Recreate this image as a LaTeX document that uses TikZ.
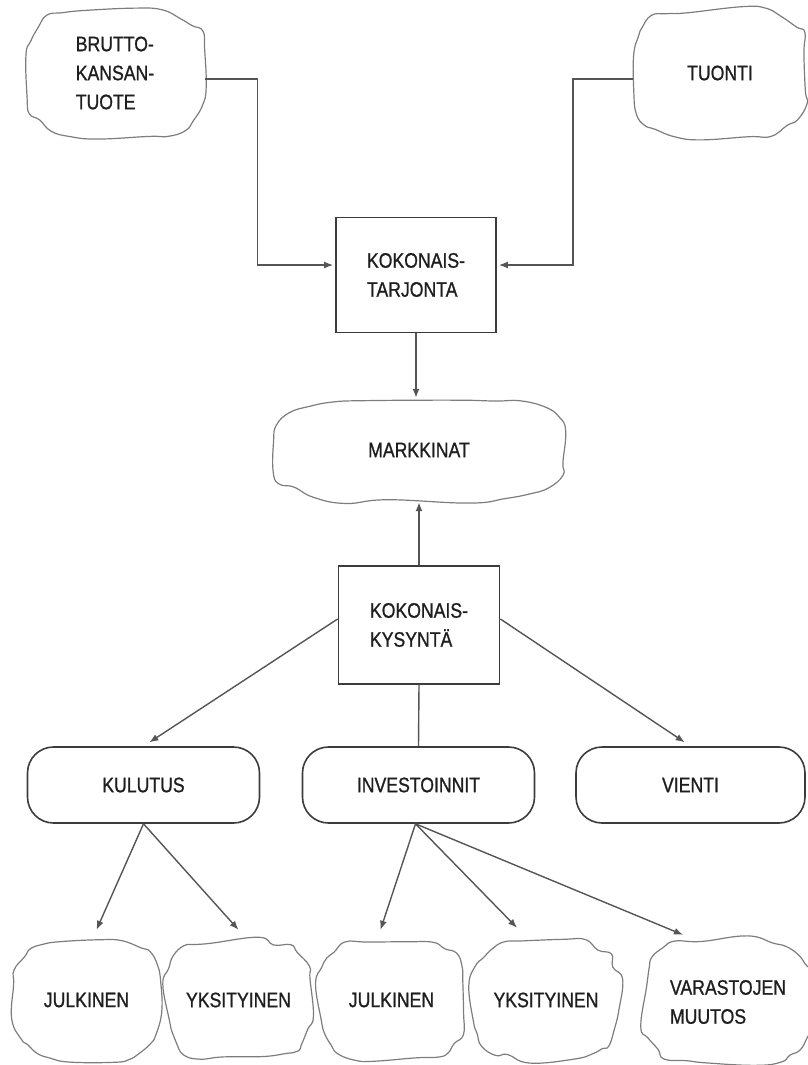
\documentclass[tikz,border=0pt]{standalone}
\usepackage{fontspec}
\setmainfont{Liberation Sans}[FakeStretch=0.84, FakeBold=0.9]
\usepackage{tikz}
\usetikzlibrary{
  positioning,
  arrows.meta
}
\usepackage{xcolor}

\definecolor{viiva}{RGB}{85,85,85}
\definecolor{reuna}{RGB}{60,60,60}
\definecolor{pilvireuna}{RGB}{125,125,125}
\definecolor{teksti}{RGB}{30,30,30}

% wobbly outline round a named node: name, half width, half height, seed
\newcommand{\pilvi}[4]{%
  \pgfmathsetseed{#4}%
  \draw[pilviviiva, shift={(#1.center)}] plot[smooth cycle, tension=0.75, variable=\t, domain=5:350, samples=24]
    ({(#2)*cos(\t)/abs(cos(\t))^0.4 + 3.5*rand}, {(#3)*sin(\t)/abs(sin(\t))^0.4 + 3.5*rand});%
}

\begin{document}
\begin{tikzpicture}[x=1pt,y=-1pt,>={Latex[length=9pt,width=7pt]},
    every node/.style={font=\fontsize{21}{29}\selectfont, text=teksti},
    laatikko/.style={draw=reuna, line width=1.8pt, inner sep=0pt, align=left},
    kapseli/.style={draw=reuna, line width=1.6pt, rounded corners=26pt, minimum width=232pt, minimum height=76pt, inner sep=0pt},
    pilvialue/.style={inner sep=0pt, align=left},
    pilviviiva/.style={draw=pilvireuna, line width=1.2pt},
    nuoli/.style={draw=viiva, line width=1.4pt, ->},
    yhdys/.style={draw=viiva, line width=1.4pt}]
    \useasboundingbox (0,0) rectangle (807,1065);

    % tarjonta
    \node[pilvialue, minimum width=180pt, minimum height=130pt] (bkt) at (115,73) {BRUTTO-\\KANSAN-\\TUOTE};
    \node[pilvialue, minimum width=174pt, minimum height=128pt] (tuonti) at (720,73) {TUONTI};
    \node[laatikko, minimum width=160pt, minimum height=115pt] (tk) at (416,275) {KOKONAIS-\\TARJONTA};
    \node[pilvialue, minimum width=292pt, minimum height=104pt] (mk) at (419,450) {MARKKINAT};

    % kysyntä
    \node[laatikko, minimum width=161pt, minimum height=118pt] (kk) at (419,625) {KOKONAIS-\\KYSYNTÄ};
    \node[kapseli] (kul) at (143.5,785) {KULUTUS};
    \node[kapseli] (inv) at (418.5,785) {INVESTOINNIT};
    \node[kapseli, minimum width=229pt] (vie) at (690.5,785) {VIENTI};

    \node[pilvialue, minimum width=147pt, minimum height=120pt] (jul1) at (86.5,1000) {JULKINEN};
    \node[pilvialue, minimum width=147pt, minimum height=120pt] (yks1) at (238.5,1000) {YKSITYINEN};
    \node[pilvialue, minimum width=147pt, minimum height=120pt] (jul2) at (391.5,1000) {JULKINEN};
    \node[pilvialue, minimum width=148pt, minimum height=120pt] (yks2) at (546,1000) {YKSITYINEN};
    \node[pilvialue, minimum width=170pt, minimum height=126pt] (var) at (728,1002) {VARASTOJEN\\MUUTOS};

    \pilvi{bkt}{90}{65}{11}
    \pilvi{tuonti}{87}{64}{12}
    \pilvi{mk}{146}{52}{13}
    \pilvi{jul1}{73}{60}{14}
    \pilvi{yks1}{73}{60}{15}
    \pilvi{jul2}{73}{60}{16}
    \pilvi{yks2}{74}{60}{17}
    \pilvi{var}{85}{63}{18}

    \draw[nuoli, shorten >=2pt] ([yshift=-6pt]bkt.east) -- ++(52,0) |- ([yshift=10pt]tk.west);
    \draw[nuoli, shorten >=2pt] ([yshift=-6pt]tuonti.west) -- ++(-60,0) |- ([yshift=10pt]tk.east);
    \draw[nuoli] (tk.south) -- (tk.south |- mk.north);
    \draw[nuoli] (kk.north) -- (mk.south);

    \draw[nuoli, shorten >=7pt] ([yshift=6pt]kk.west) -- (kul.north);
    \draw[nuoli, shorten >=7pt] ([yshift=6pt]kk.east) -- (vie.north);
    \draw[yhdys] (kk.south) -- (inv.north);

    \draw[nuoli] (kul.south) -- ([xshift=10pt,yshift=10pt]jul1.north);
    \draw[nuoli] (kul.south) -- ([yshift=10pt]yks1.north);
    \draw[nuoli] ([xshift=-3pt]inv.south) -- ([xshift=-11pt,yshift=10pt]jul2.north);
    \draw[nuoli] ([xshift=-3pt]inv.south) -- ([xshift=-29pt,yshift=12pt]yks2.north);
    \draw[nuoli] ([xshift=-3pt]inv.south) -- ([xshift=-45pt,yshift=4pt]var.north);
\end{tikzpicture}
\end{document}
